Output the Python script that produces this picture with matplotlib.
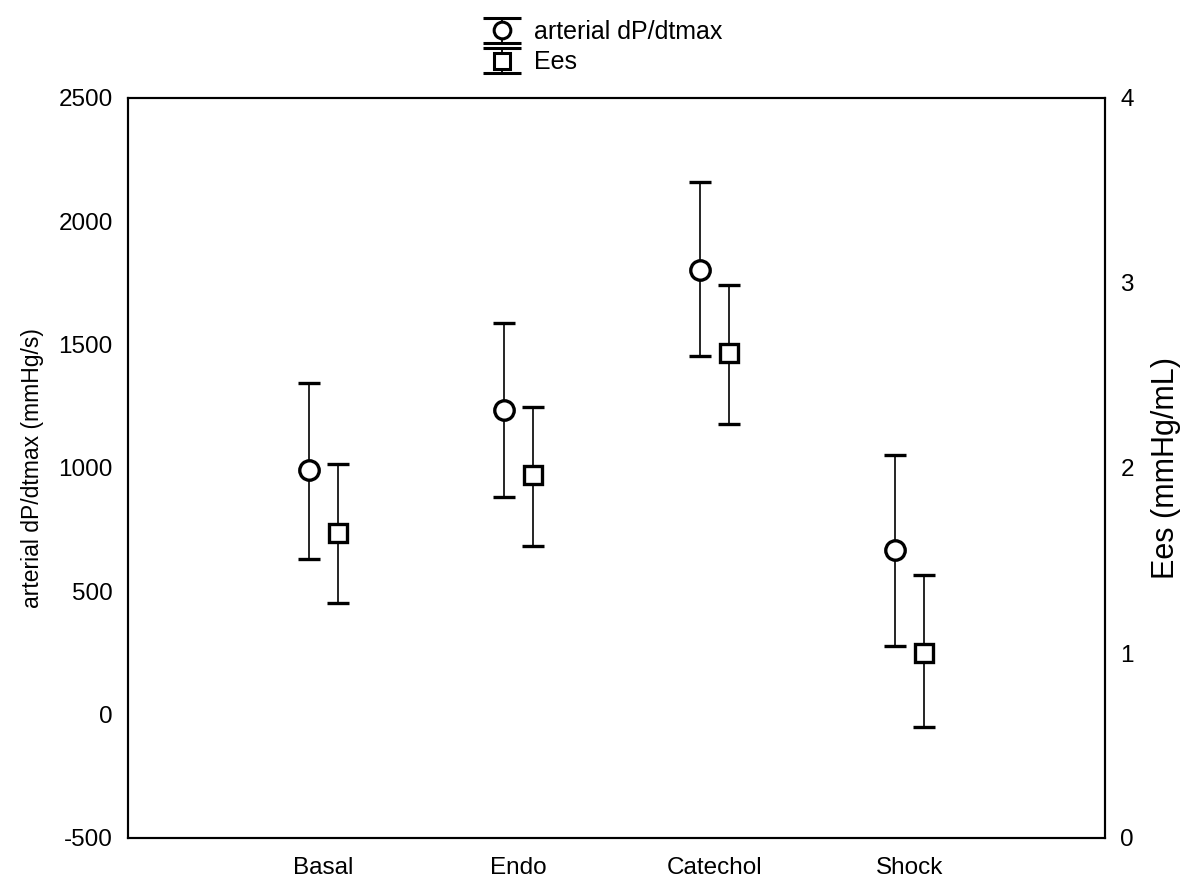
import matplotlib
matplotlib.use("Agg")
import matplotlib.pyplot as plt
import numpy as np

plt.rcParams['font.family'] = ['Liberation Sans', 'DejaVu Sans']

categories = ["Basal", "Endo", "Catechol", "Shock"]
dpdt_mean = [992, 1235, 1803, 668]
dpdt_upper = [1344, 1588, 2159, 1053]
dpdt_lower = [631, 882, 1454, 279]
ees_mean = [1.65, 1.96, 2.62, 1.00]
ees_upper = [2.02, 2.33, 2.99, 1.42]
ees_lower = [1.27, 1.58, 2.24, 0.60]

fig = plt.figure(figsize=(12, 8.83), dpi=100)
ax = fig.add_axes([128/1200, 45/883, (1105-128)/1200, (838-98)/883])
ax2 = ax.twinx()

x = np.arange(len(categories))
off = 0.075

dm = np.array(dpdt_mean); du = np.array(dpdt_upper); dl = np.array(dpdt_lower)
em = np.array(ees_mean); eu = np.array(ees_upper); el = np.array(ees_lower)

ax.errorbar(x - off, dm, yerr=[dm - dl, du - dm], fmt='o', color='black',
            mfc='white', mec='black', mew=2.4, ms=14, ecolor='black',
            elinewidth=1.2, capsize=8, capthick=1.3)
ax2.errorbar(x + off, em, yerr=[em - el, eu - em], fmt='s', color='black',
             mfc='white', mec='black', mew=2.4, ms=13.5, ecolor='black',
             elinewidth=1.2, capsize=8, capthick=1.3)

ax.set_xlim(-1, 4)
ax.set_ylim(-500, 2500)
ax2.set_ylim(0, 4)
ax.set_xticks(x)
ax.set_xticklabels(categories, fontsize=17.5)
ax.set_yticks([-500, 0, 500, 1000, 1500, 2000, 2500])
ax.set_yticklabels(['-500', '0', '500', '1000', '1500', '2000', '2500'], fontsize=17.5)
ax2.set_yticks([0, 1, 2, 3, 4])
ax2.set_yticklabels(['0', '1', '2', '3', '4'], fontsize=17.5)
ax.tick_params(axis='y', length=0, pad=11)
ax.tick_params(axis='x', length=0, pad=14)
ax2.tick_params(axis='both', length=0, pad=11)
for a in (ax, ax2):
    for s in a.spines.values():
        s.set_linewidth(1.5)

ax.set_ylabel('arterial dP/dtmax (mmHg/s)', fontsize=16.5, labelpad=10)
ax2.set_ylabel('Ees (mmHg/mL)', fontsize=22, labelpad=12)

# legend proxies (drawn on a hidden axes)
pax = fig.add_axes([0, 0, 0.01, 0.01])
pax.set_axis_off()
p1 = pax.errorbar([np.nan], [np.nan], yerr=[1], fmt='o', color='black', mfc='white',
                  mec='black', mew=2.2, ms=12, ecolor='black', elinewidth=1.3,
                  capsize=13.5, capthick=1.5)
p2 = pax.errorbar([np.nan], [np.nan], yerr=[1], fmt='s', color='black', mfc='white',
                  mec='black', mew=2.2, ms=11.5, ecolor='black', elinewidth=1.3,
                  capsize=13.5, capthick=1.5)

fig.legend([p1, p2], ['arterial dP/dtmax', 'Ees'], loc='upper center',
           bbox_to_anchor=(0.502, 0.997), frameon=False, fontsize=18,
           handlelength=1.6, handletextpad=0.5, labelspacing=0.25,
           borderaxespad=0.3)

fig.savefig('out.png', dpi=100)
